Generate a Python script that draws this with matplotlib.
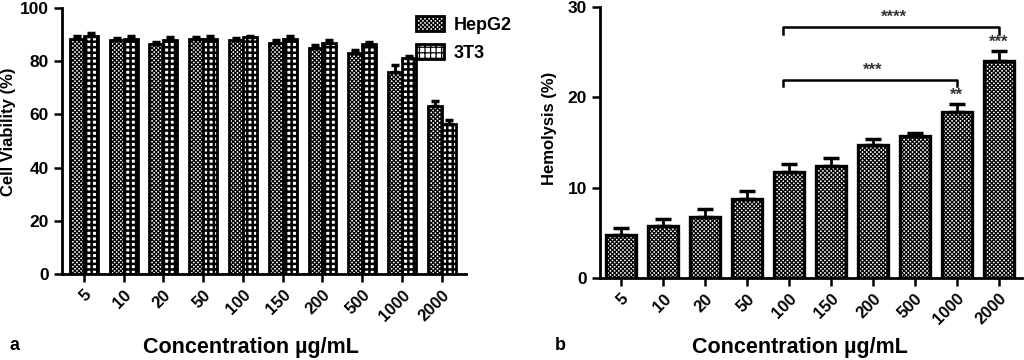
import numpy as np
import matplotlib
matplotlib.use("Agg")
import matplotlib.pyplot as plt
from matplotlib.patches import Patch

plt.rcParams["font.family"] = ["Liberation Sans", "DejaVu Sans"]
plt.rcParams["font.weight"] = "bold"
plt.rcParams["hatch.linewidth"] = 0.9

# =========================
# DATA
# =========================
conc = ["5", "10", "20", "50", "100", "150", "200", "500", "1000", "2000"]

hepg2 = [88.5, 88.0, 86.5, 88.5, 88.0, 87.0, 85.0, 83.0, 76.0, 63.0]
hepg2_err = [0.8, 0.7, 0.8, 0.7, 0.6, 0.8, 0.9, 1.0, 2.5, 2.0]
t3t3 = [89.5, 88.5, 88.0, 88.5, 89.0, 88.5, 87.0, 86.5, 81.0, 56.5]
t3t3_err = [0.9, 0.9, 0.9, 0.8, 0.6, 0.9, 1.0, 0.8, 1.0, 1.5]

hemo = [4.7, 5.7, 6.7, 8.7, 11.7, 12.4, 14.7, 15.7, 18.4, 24.0]
hemo_err = [0.8, 0.8, 0.9, 0.9, 0.9, 0.9, 0.7, 0.3, 0.9, 1.1]

# brackets: (start idx, end idx, height, drop, label)
brackets = [(4, 9, 27.8, 0.8, "****"), (4, 8, 21.9, 0.7, "***")]
bar_stars = {8: "**", 9: "***"}

FINE = "xxxxxxxx"
COARSE = "+++"

x = np.arange(len(conc))

fig = plt.figure(figsize=(10.24, 3.6), dpi=100)
ax1 = fig.add_axes([0.0605, 0.239, 0.395, 0.739])
ax2 = fig.add_axes([0.586, 0.228, 0.412, 0.753])

ekw = dict(elinewidth=2, capthick=2.5, ecolor="black")

# =========================
# PANEL a
# =========================
w = 0.35
ax1.bar(x - w / 2, hepg2, w, facecolor="white", edgecolor="black",
        linewidth=2, hatch=FINE,
        yerr=[np.zeros(len(x)), hepg2_err], capsize=3, error_kw=ekw)
with plt.rc_context({"hatch.linewidth": 1.8}):
    ax1.bar(x + w / 2, t3t3, w, facecolor="white", edgecolor="black",
            linewidth=2, hatch=COARSE,
            yerr=[np.zeros(len(x)), t3t3_err], capsize=3, error_kw=ekw)

ax1.set_xlim(-0.55, 9.62)
ax1.set_ylim(0, 100)
ax1.set_yticks([0, 20, 40, 60, 80, 100])
ax1.set_ylabel("Cell Viability (%)", fontsize=12, fontweight="bold")
ax1.yaxis.set_label_coords(-0.113, 0.534)

# =========================
# PANEL b
# =========================
ax2.bar(x, hemo, 0.7, facecolor="white", edgecolor="black",
        linewidth=2.4, hatch=FINE,
        yerr=[np.zeros(len(x)), hemo_err], capsize=6, error_kw=ekw)

ax2.set_xlim(-0.5, 9.55)
ax2.set_ylim(0, 30)
ax2.set_yticks([0, 10, 20, 30])
ax2.set_ylabel("Hemolysis (%)", fontsize=12, fontweight="bold")
ax2.yaxis.set_label_coords(-0.102, 0.55)

for i0, i1, h, d, lab in brackets:
    ax2.plot([x[i0] - 0.15, x[i0] - 0.15, x[i1], x[i1]],
             [h - d, h, h, h - d], color="black", lw=1.8)
    ax2.text((x[i0] + x[i1]) / 2, h + 0.2, lab, ha="center", va="bottom",
             fontsize=12, fontweight="bold", color="#333333")

for i, lab in bar_stars.items():
    ax2.text(x[i], hemo[i] + hemo_err[i] + 0.1, lab, ha="center",
             va="bottom", fontsize=12, fontweight="bold", color="#333333")

for ax in (ax1, ax2):
    ax.spines["top"].set_visible(False)
    ax.spines["right"].set_visible(False)
    ax.spines["left"].set_linewidth(2)
    ax.spines["bottom"].set_linewidth(2)
    ax.tick_params(width=1.8, length=6, labelsize=12.5)
    ax.set_xticks(x)
    ax.set_xticklabels(conc, rotation=45, ha="right", rotation_mode="anchor",
                       fontsize=12, fontweight="bold")
    for t in ax.get_yticklabels():
        t.set_fontweight("bold")
    ax.set_xlabel("Concentration µg/mL", fontsize=15.5, fontweight="bold")

ax1.xaxis.set_label_coords(0.467, -0.238)
ax2.xaxis.set_label_coords(0.474, -0.219)

legend_handles = [
    Patch(facecolor="white", edgecolor="black", linewidth=2, hatch=FINE,
          label="HepG2"),
    Patch(facecolor="white", edgecolor="black", linewidth=2, hatch=COARSE,
          label="3T3"),
]
fig.legend(handles=legend_handles, loc="upper left",
           bbox_to_anchor=(0.39, 1.0), frameon=False,
           prop={"size": 13, "weight": "bold"},
           handlelength=1.6, handleheight=0.9, handletextpad=0.5,
           labelspacing=0.55)

fig.text(10 / 1024, 1 - 345 / 360, "a", fontsize=13, fontweight="bold",
         va="center")
fig.text(555 / 1024, 1 - 345 / 360, "b", fontsize=13, fontweight="bold",
         va="center")

fig.savefig("out.png", dpi=100)
